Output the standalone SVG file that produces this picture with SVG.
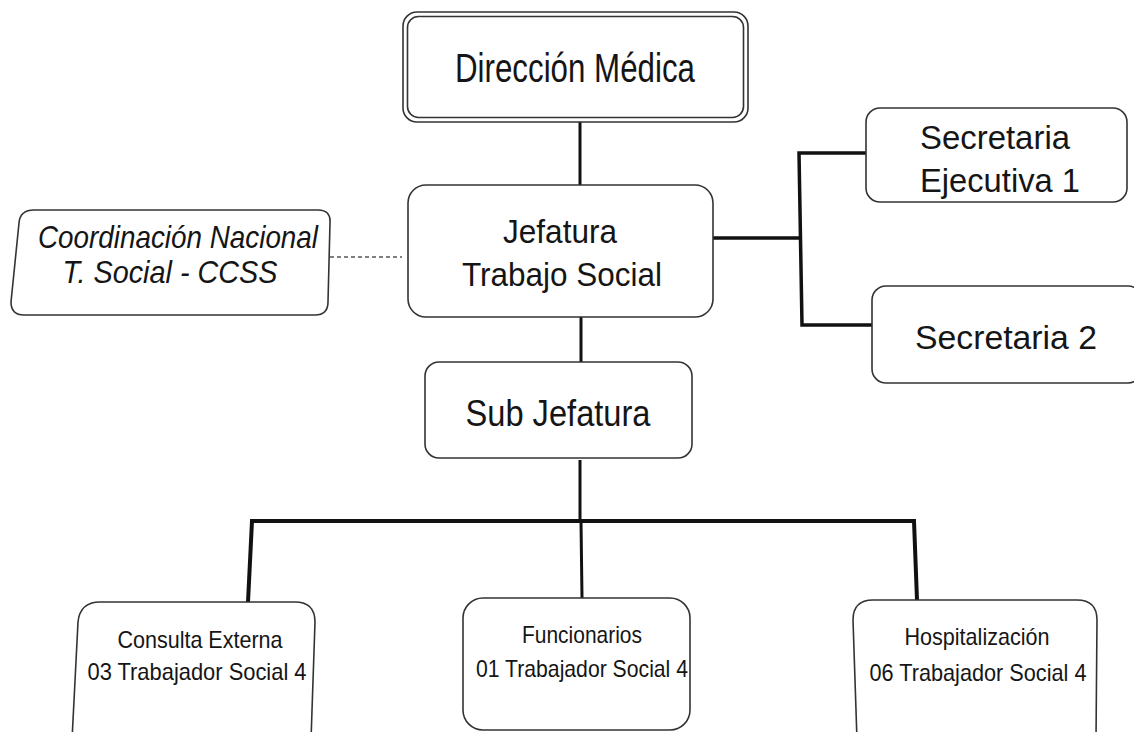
<svg xmlns="http://www.w3.org/2000/svg" width="1134" height="732" viewBox="0 0 1134 732">
<style>
.box{fill:#fff;stroke:#333;stroke-width:1.6}
.t{font-family:"Liberation Sans",Arial,sans-serif;fill:#151515;text-anchor:middle}
.c{fill:none;stroke:#111;stroke-width:3.5;stroke-linejoin:miter}
.d{fill:none;stroke:#555;stroke-width:1.3;stroke-dasharray:4 3}
</style>
<rect width="1134" height="732" fill="#fff"/>
<g id="connectors">
<line class="c" x1="580" y1="122" x2="580" y2="185" style="stroke-width:3"/>
<line class="c" x1="581" y1="317" x2="581" y2="362" style="stroke-width:3"/>
<polyline class="c" points="713,238 800,238"/>
<polyline class="c" points="866,153 799,153 802,325 872,325"/>
<line class="d" x1="330" y1="257" x2="402" y2="257"/>
<line class="c" x1="580" y1="460" x2="580" y2="521" style="stroke-width:3"/>
<polyline class="c" points="248,602 252,521 914,521 917,600" style="stroke-width:4"/>
<line class="c" x1="581" y1="521" x2="582" y2="598" style="stroke-width:3"/>
</g>
<g id="direccion">
<rect class="box" x="403" y="12" width="345" height="110" rx="14"/>
<rect class="box" x="407.5" y="16.5" width="336" height="101" rx="11" style="fill:none"/>
<text class="t" x="575" y="82" font-size="40" textLength="240" lengthAdjust="spacingAndGlyphs">Dirección Médica</text>
</g>
<g id="coordinacion">
<path class="box" d="M34,210 H318 Q331,210 330,223 L328,302 Q328,315 315,315 H24 Q11,315 11,302 L19,223 Q20,210 34,210 Z"/>
<text class="t" x="178" y="248" font-size="32" font-style="italic" textLength="280" lengthAdjust="spacingAndGlyphs">Coordinación Nacional</text>
<text class="t" x="170" y="283" font-size="32" font-style="italic" textLength="215" lengthAdjust="spacingAndGlyphs">T. Social - CCSS</text>
</g>
<g id="jefatura">
<rect class="box" x="408" y="185" width="305" height="132" rx="18"/>
<text class="t" x="560" y="243" font-size="33" textLength="114" lengthAdjust="spacingAndGlyphs">Jefatura</text>
<text class="t" x="562" y="286" font-size="33" textLength="200" lengthAdjust="spacingAndGlyphs">Trabajo Social</text>
</g>
<g id="secretaria1">
<rect class="box" x="866" y="108" width="261" height="94" rx="14"/>
<text class="t" x="995" y="149" font-size="34" textLength="150" lengthAdjust="spacingAndGlyphs">Secretaria</text>
<text class="t" x="1000" y="192" font-size="34" textLength="160" lengthAdjust="spacingAndGlyphs">Ejecutiva 1</text>
</g>
<g id="secretaria2">
<rect class="box" x="872" y="286" width="270" height="97" rx="14"/>
<text class="t" x="1006" y="349" font-size="34" textLength="182" lengthAdjust="spacingAndGlyphs">Secretaria 2</text>
</g>
<g id="subjefatura">
<rect class="box" x="425" y="362" width="267" height="96" rx="14"/>
<text class="t" x="558" y="426" font-size="37" textLength="185" lengthAdjust="spacingAndGlyphs">Sub Jefatura</text>
</g>
<g id="consulta">
<path class="box" d="M100,602 H295 Q315,602 315,622 L311,740 H72 L78,622 Q80,602 100,602 Z"/>
<text class="t" x="200" y="648" font-size="24" textLength="165" lengthAdjust="spacingAndGlyphs">Consulta Externa</text>
<text class="t" x="197" y="680" font-size="24" textLength="219" lengthAdjust="spacingAndGlyphs">03 Trabajador Social 4</text>
</g>
<g id="funcionarios">
<rect class="box" x="463" y="598" width="227" height="132" rx="20"/>
<text class="t" x="582" y="643" font-size="24" textLength="120" lengthAdjust="spacingAndGlyphs">Funcionarios</text>
<text class="t" x="582" y="677" font-size="24" textLength="212" lengthAdjust="spacingAndGlyphs">01 Trabajador Social 4</text>
</g>
<g id="hospitalizacion">
<path class="box" d="M873,600 H1077 Q1097,600 1097,620 L1096,740 H857 L853,620 Q853,600 873,600 Z"/>
<text class="t" x="977" y="645" font-size="24" textLength="145" lengthAdjust="spacingAndGlyphs">Hospitalización</text>
<text class="t" x="978" y="681" font-size="24" textLength="217" lengthAdjust="spacingAndGlyphs">06 Trabajador Social 4</text>
</g>
</svg>
